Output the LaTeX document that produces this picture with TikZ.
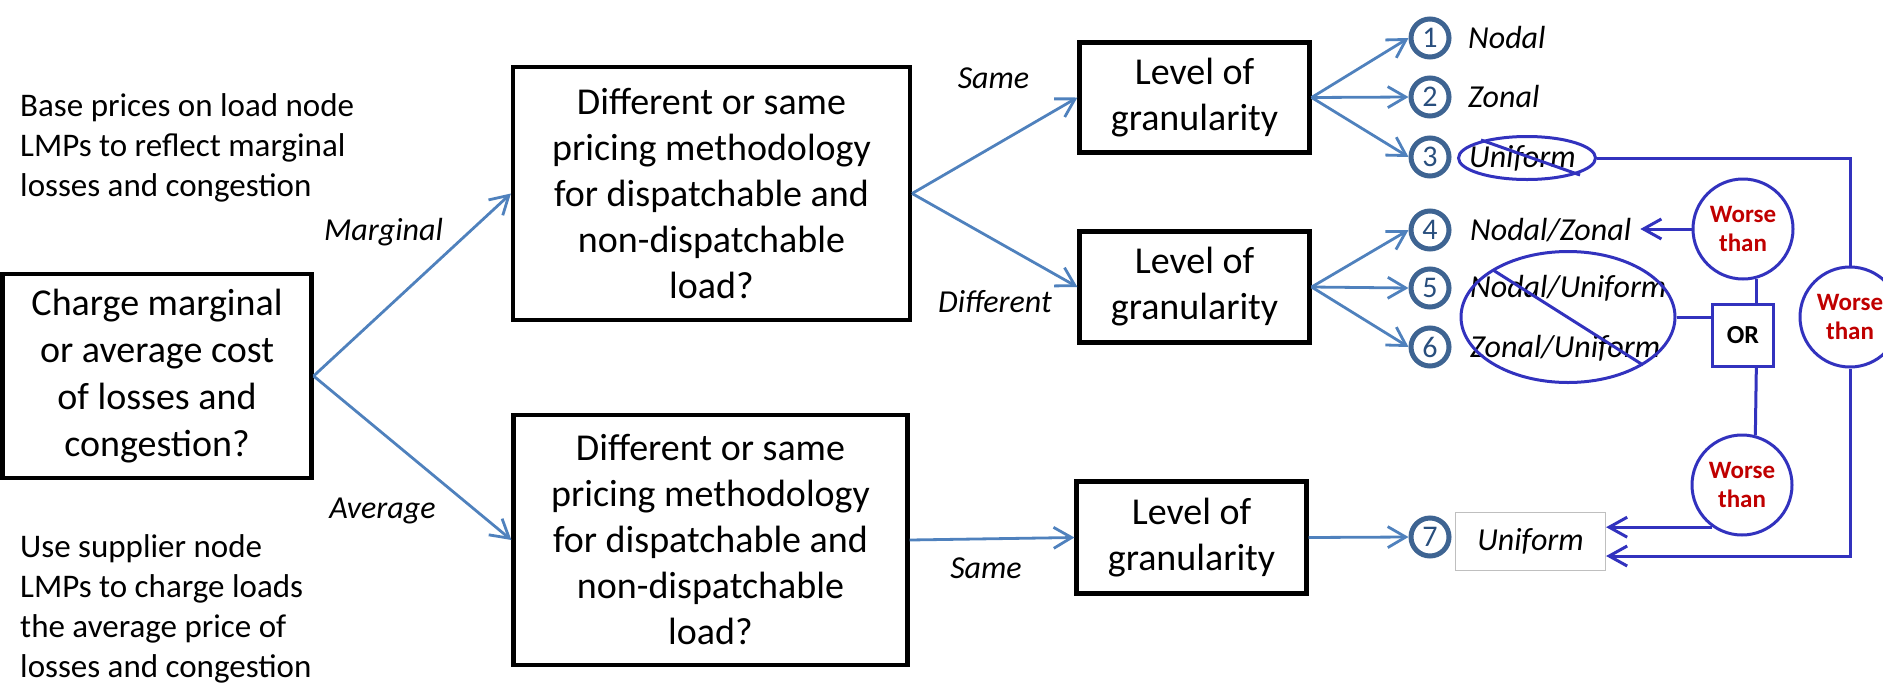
\documentclass[tikz,border=0pt]{standalone}
\usepackage{fontspec}
\setmainfont{Carlito}
\usetikzlibrary{arrows.meta,shapes.geometric,calc}
\definecolor{flowblue}{RGB}{79,129,189}
\definecolor{ringblue}{RGB}{62,100,146}
\definecolor{digitblue}{RGB}{40,78,125}
\definecolor{markblue}{RGB}{50,50,190}
\definecolor{worsered}{RGB}{192,0,0}
\definecolor{framegray}{RGB}{191,191,191}
\newcommand{\fsz}[2]{\fontsize{#1}{#2}\selectfont}

\begin{document}
\begin{tikzpicture}[x=1pt,y=-1pt,
  decision/.style={draw,line width=4.2pt,align=center,inner sep=0pt,font=\fsz{38}{46}},
  note/.style={align=left,inner sep=0pt,font=\fsz{33}{40}},
  branch/.style={font=\fsz{32}{38}\itshape,inner sep=0pt,anchor=base},
  flow/.style={draw=flowblue,line width=2.8pt,-{Straight Barb[length=18pt,width=21pt]}},
  option/.style={circle,draw=ringblue,line width=5pt,minimum size=38pt,inner sep=0pt,text=digitblue,font=\fsz{30}{30}},
  choice/.style={font=\fsz{32}{38}\itshape,inner sep=0pt,anchor=base west},
  markline/.style={draw=markblue,line width=3pt},
  markarrow/.style={markline,-{Straight Barb[length=18pt,width=20pt]}},
  verdict/.style={circle,draw=markblue,line width=3pt,fill=white,minimum size=100pt,inner sep=0pt,align=center,text=worsered,font=\fsz{25}{29}\bfseries},
]
\useasboundingbox (0,0) rectangle (1883,689);
\clip (0,0) rectangle (1883,689);

% side notes
\node[note,anchor=west] (basenote) at (20,148) {Base prices on load node\\LMPs to reflect marginal\\losses and congestion};
\node[note,anchor=west] (usenote) at (20,609) {Use supplier node\\LMPs to charge loads\\the average price of\\losses and congestion};

% decision boxes
\node[decision,font=\fsz{38}{47},minimum width=309pt,minimum height=204pt] (charge) at (157,376) {Charge marginal\\or average cost\\of losses and\\congestion?};
\node[decision,minimum width=397pt,minimum height=253pt] (methodA) at (711.5,193.5) {Different or same\\pricing methodology\\for dispatchable and\\non-dispatchable\\load?};
\node[decision,minimum width=394pt,minimum height=250pt] (methodB) at (710.5,540) {Different or same\\pricing methodology\\for dispatchable and\\non-dispatchable\\load?};
\node[decision,minimum width=230pt,minimum height=110pt] (levelA) at (1194.5,97.5) {Level of\\granularity};
\node[decision,minimum width=230pt,minimum height=111pt] (levelB) at (1194.5,287) {Level of\\granularity};
\node[decision,minimum width=230pt,minimum height=112pt] (levelC) at (1191.5,537.5) {Level of\\granularity};

% branch labels
\node[branch] (marg) at (383.5,240) {Marginal};
\node[branch] (avg) at (382.5,518) {Average};
\node[branch] (sameA) at (993.5,88) {Same};
\node[branch] (diff) at (995,312) {Different};
\node[branch] (sameB) at (986,578) {Same};

% numbered options
\node[option] (o1) at (1430,38) {1};
\node[option] (o2) at (1430,97) {2};
\node[option] (o3) at (1430,157) {3};
\node[option] (o4) at (1430,230) {4};
\node[option] (o5) at (1430,288) {5};
\node[option] (o6) at (1430,347) {6};
\node[option] (o7) at (1430,537) {7};

\node[choice] (nodal) at (1468,48) {Nodal};
\node[choice] (zonal) at (1468,107) {Zonal};
\node[choice] (unif) at (1469,167) {Uniform};
\node[choice] (nz) at (1470,240) {Nodal/Zonal};
\node[choice] (nu) at (1470,297) {Nodal/Uniform};
\node[choice] (zu) at (1470,357) {Zonal/Uniform};
\node[draw=framegray,line width=1.2pt,minimum width=150pt,minimum height=58pt,inner sep=0pt,font=\fsz{32}{38}\itshape] (unifbox) at (1530.5,541.5) {Uniform};

% crossed-out options
\node[ellipse,markline,minimum width=137pt,minimum height=43pt,inner sep=0pt] (ringU) at (1527,158) {};
\node[ellipse,markline,minimum width=214pt,minimum height=131pt,inner sep=0pt] (ringNU) at (1568,317) {};
\draw[markline] (1481,140) -- (1580,175);
\draw[markline] (1493,270) -- (1643,365);

% comparison
\node[markline,minimum width=61pt,minimum height=62pt,inner sep=0pt,font=\fsz{26}{26}\bfseries] (orbox) at (1743,335.5) {OR};
\node[verdict] (worseA) at (1743,229) {Worse\\than};
\node[verdict] (worseB) at (1850,317) {Worse\\than};
\node[verdict] (worseC) at (1742,485) {Worse\\than};
\coordinate (entry) at ($(unifbox.east)+(0,14.5)$);

% decision flow
\draw[flow] (charge.east) -- (methodA.west);
\draw[flow] (charge.east) -- (methodB.west);
\draw[flow] (methodA.east) -- (levelA.west);
\draw[flow] (methodA.east) -- (levelB.west);
\draw[flow] (methodB.east) -- (levelC.west);
\foreach \o in {o1,o2,o3} \draw[flow] (levelA.east) -- (\o.west);
\foreach \o in {o4,o5,o6} \draw[flow] (levelB.east) -- (\o.west);
\draw[flow] (levelC.east) -- (o7.west);

% comparison links
\draw[markline] (ringNU.east) -- (ringNU.east -| orbox.west);
\draw[markline] (worseA.285) -- (worseA.285 |- orbox.north);
\draw[markline] (orbox.south -| worseA.285) -- (worseC.75);
\draw[markarrow] (worseA.west) -- ($(nz.east |- worseA.west)+(9,0)$);
\draw[markarrow] (worseC.235) -- (worseC.235 -| unifbox.east);
\draw[markline] (ringU.east) -- (ringU.east -| worseB.north) -- (worseB.north);
\draw[markarrow] (worseB.south) -- (worseB.south |- entry) -- (entry);
\end{tikzpicture}
\end{document}
